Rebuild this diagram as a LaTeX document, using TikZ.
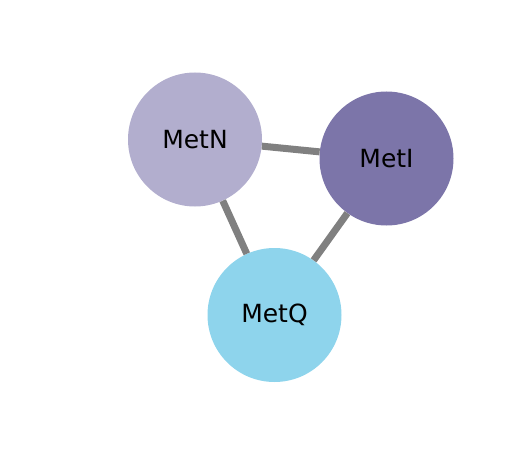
\documentclass[tikz,border=0pt]{standalone}
\usepackage{fontspec}
\setmainfont{DejaVu Sans}
\definecolor{cN}{HTML}{B2AECE}
\definecolor{cI}{HTML}{7C75A9}
\definecolor{cQ}{HTML}{8ED4EC}
\definecolor{edge}{HTML}{808080}
\begin{document}
\begin{tikzpicture}[x=1pt,y=-1pt,
  prot/.style={circle,minimum size=134pt,inner sep=0pt,font=\fontsize{25}{30}\selectfont,text=black},
  link/.style={draw=edge,line width=7pt}]
\useasboundingbox (0,0) rectangle (520,460);
\node[prot,fill=cN] (N) at (195,139.5) {MetN};
\node[prot,fill=cI] (I) at (386.5,158.5) {MetI};
\node[prot,fill=cQ] (Q) at (274.5,315) {MetQ};
\draw[link] (N) -- (I);
\draw[link] (N) -- (Q);
\draw[link] (I) -- (Q);
\end{tikzpicture}
\end{document}
